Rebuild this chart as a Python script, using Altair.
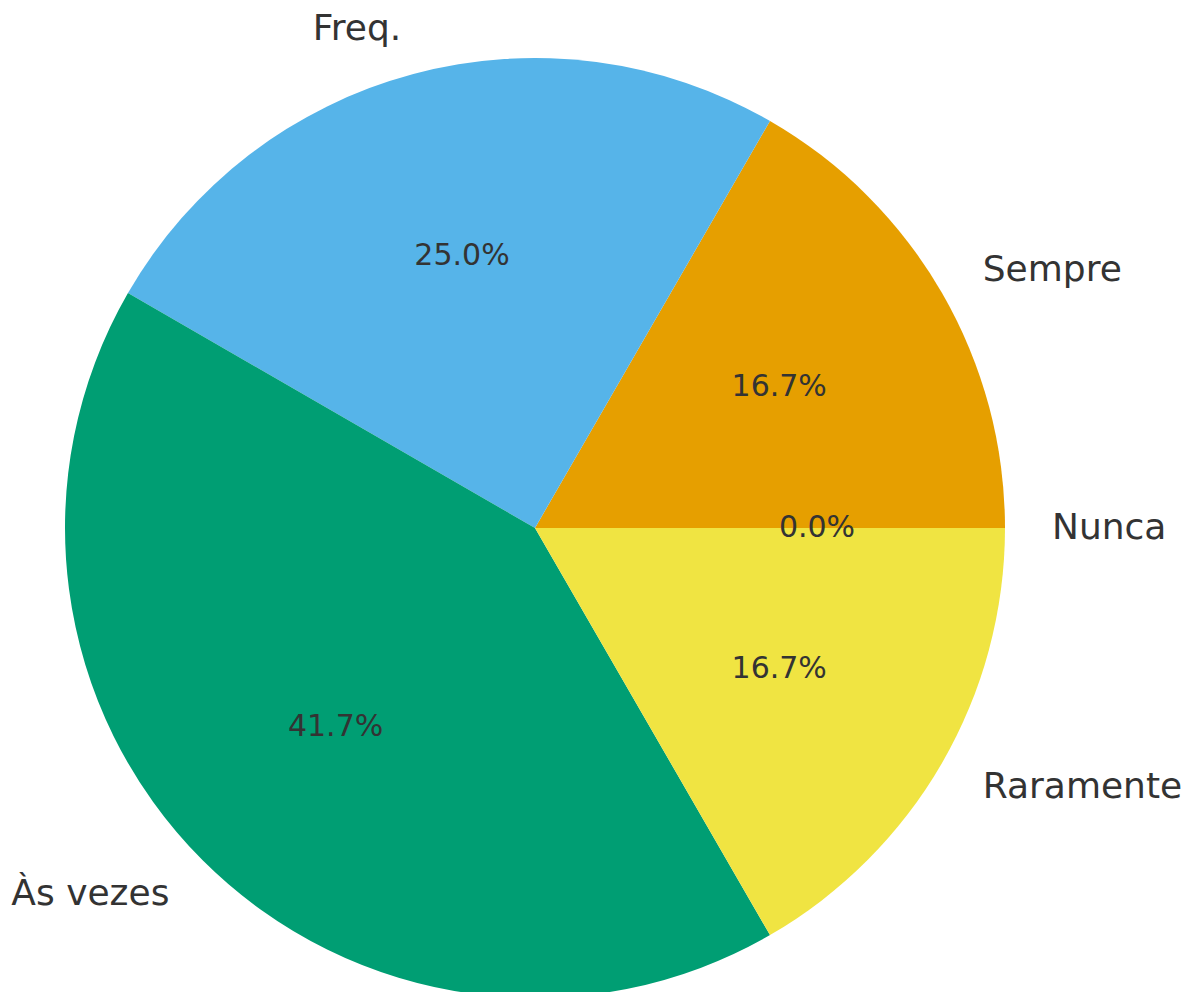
import altair as alt
import pandas as pd

categories = ["Nunca", "Sempre", "Freq.", "Às vezes", "Raramente"]
counts = [0, 2, 3, 5, 2]
colors = ["#0072B2", "#E69F00", "#56B4E9", "#009E73", "#F0E442"]
pct_labels = ["0.0%", "16.7%", "25.0%", "41.7%", "16.7%"]
sides = ["right", "right", "left", "left", "right"]

df = pd.DataFrame({
    "cat": categories,
    "n": counts,
    "order": list(range(len(categories))),
    "pct": pct_labels,
    "side": sides,
})

PI = 3.141592653589793
R = 470

base = alt.Chart(df).transform_joinaggregate(
    total="sum(n)"
).transform_window(
    cum="sum(n)", sort=[alt.SortField("order")], frame=[None, 0]
).transform_calculate(
    e="datum.cum / datum.total",
    s="(datum.cum - datum.n) / datum.total",
).transform_calculate(
    t1=f"{PI/2} - 2*{PI}*datum.e",
    t2=f"{PI/2} - 2*{PI}*datum.s",
    mid=f"{PI/2} - {PI}*(datum.s + datum.e)",
)

arcs = base.mark_arc(outerRadius=R, stroke=None).encode(
    theta=alt.Theta("t1:Q", scale=None),
    theta2="t2:Q",
    color=alt.Color("cat:N", scale=alt.Scale(domain=categories, range=colors), legend=None),
)

pct_text = base.mark_text(
    radius=R * 0.6, font="DejaVu Sans", fontSize=30, color="#333333",
    align="center", baseline="middle",
).encode(
    theta=alt.Theta("mid:Q", scale=None),
    text="pct:N",
)

lab_right = base.transform_filter("datum.side == 'right'").mark_text(
    radius=R * 1.1, font="DejaVu Sans", fontSize=36, color="#333333",
    align="left", baseline="middle",
).encode(
    theta=alt.Theta("mid:Q", scale=None),
    text="cat:N",
)

lab_left = base.transform_filter("datum.side == 'left'").mark_text(
    radius=R * 1.1, font="DejaVu Sans", fontSize=36, color="#333333",
    align="right", baseline="middle",
).encode(
    theta=alt.Theta("mid:Q", scale=None),
    text="cat:N",
)

chart = alt.layer(arcs, pct_text, lab_right, lab_left).properties(
    width=1054, height=1040, padding=0,
).configure_view(stroke=None).configure(background="white")

chart.save("out.html", embed_options={"renderer": "svg", "actions": False})
